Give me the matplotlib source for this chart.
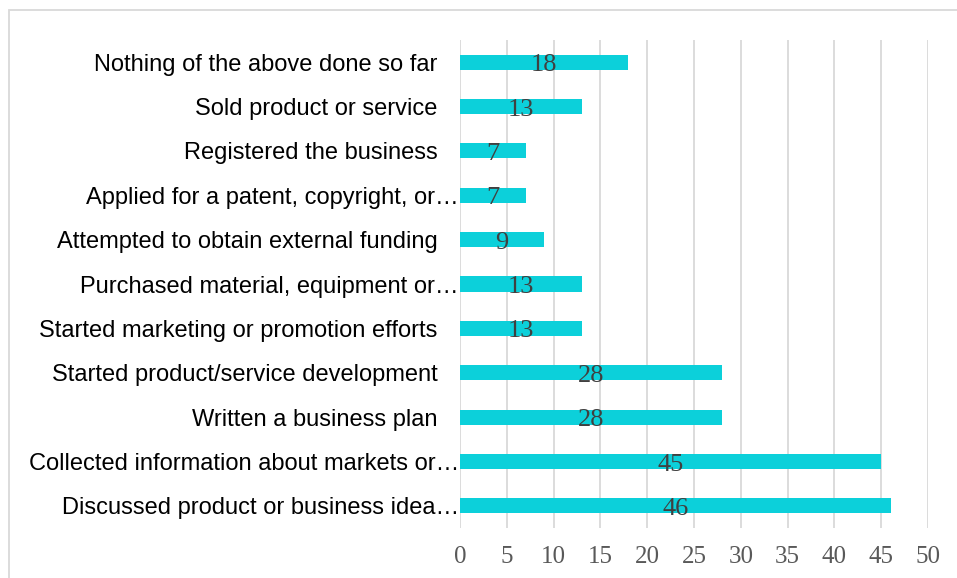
import matplotlib
matplotlib.use("Agg")
import matplotlib.pyplot as plt
from matplotlib.patches import Rectangle
from matplotlib.transforms import ScaledTranslation

# survey answers, bottom to top
activities = [
    "Discussed product or business idea…",
    "Collected information about markets or…",
    "Written a business plan",
    "Started product/service development",
    "Started marketing or promotion efforts",
    "Purchased material, equipment or…",
    "Attempted to obtain external funding",
    "Applied for a patent, copyright, or…",
    "Registered the business",
    "Sold product or service",
    "Nothing of the above done so far",
]
counts = [46, 45, 28, 28, 13, 13, 9, 7, 7, 13, 18]
xticks = list(range(0, 55, 5))

W, H = 957, 578
fig = plt.figure(figsize=(W / 100, H / 100), dpi=100)
ax = fig.add_axes([460 / W, 1 - 528 / H, (928 - 460) / W, (528 - 40) / H])

ypos = list(range(len(activities)))
bars = ax.barh(ypos, counts, height=0.34, color="#0CD0DA", zorder=3)

for y, v in zip(ypos, counts):
    ax.text(v / 2, y - 0.07, str(v), ha="center", va="center",
            family="Liberation Serif", fontsize=19, color="#404040", zorder=4)

ax.set_xlim(0, 50)
ax.set_ylim(-0.5, 10.5)
ax.set_xticks(xticks)
ax.set_xticklabels([str(t) for t in xticks], family="Liberation Serif",
                   fontsize=18, color="#595959")
ax.set_yticks(ypos)
ax.set_yticklabels(activities, family="Liberation Sans", fontsize=17, color="black")
ax.tick_params(axis="both", length=0)
ax.tick_params(axis="y", pad=16)
ax.tick_params(axis="x", pad=13)
ax.grid(axis="x", color="#d9d9d9", linewidth=1.3, zorder=0)
for s in ax.spines.values():
    s.set_visible(False)

# cut-off labels run right up to the bars
shift = ScaledTranslation(0.21, 0, fig.dpi_scale_trans)
for lbl in ax.get_yticklabels():
    if lbl.get_text().endswith("…"):
        lbl.set_transform(lbl.get_transform() + shift)

# outer chart frame
fig.patches.append(Rectangle((9 / W, -0.05), 1.2, 1 - 10 / H + 0.05,
                             transform=fig.transFigure, fill=False,
                             edgecolor="#d9d9d9", linewidth=1.3))

fig.savefig("out.png", dpi=100)
